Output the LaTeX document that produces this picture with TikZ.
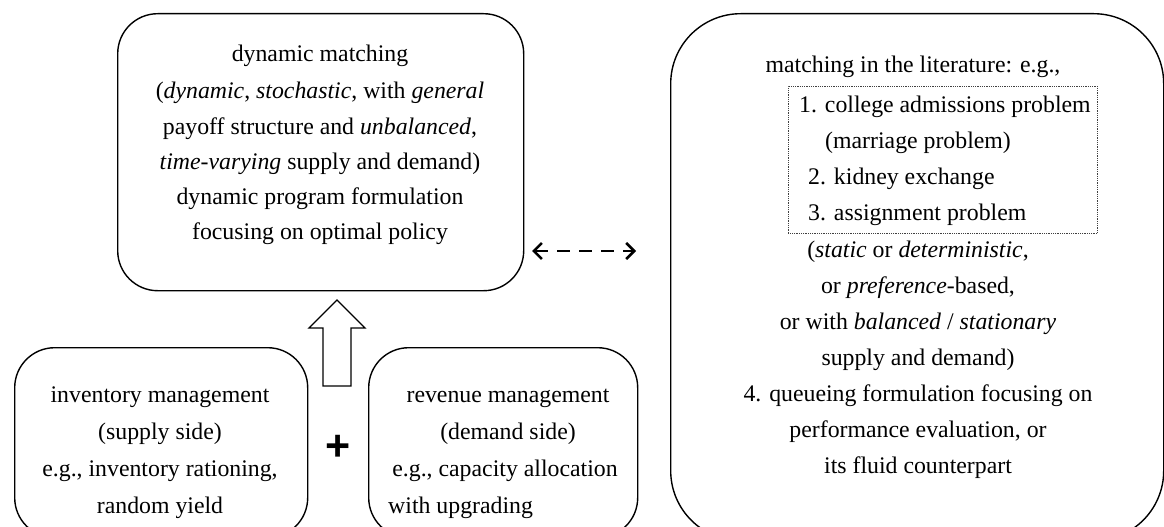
\documentclass[tikz,border=0pt]{standalone}
\usepackage{fontspec}
\setmainfont{Liberation Serif}
\newfontfamily\plusfont{Liberation Sans}
\usetikzlibrary{arrows.meta}
\begin{document}
\begin{tikzpicture}[x=1pt,y=-1pt,
  box/.style={draw, line width=1.4pt, rounded corners=40pt, inner sep=0pt, anchor=north west},
  bigbox/.style={box, rounded corners=70pt},
  listframe/.style={draw=black!75, densely dotted, line width=0.8pt, inner sep=0pt, anchor=north west},
  txt/.style={inner sep=0pt, anchor=base, font=\fontsize{23.8}{36}\selectfont},
  txtl/.style={txt, anchor=base west},
  link/.style={line width=2.6pt, dash pattern=on 13pt off 9pt,
    {Straight Barb[length=8pt,width=16pt,line width=2.6pt]}-{Straight Barb[length=8pt,width=16pt,line width=2.6pt]}},
  hollow/.style={draw, line width=1.4pt, line join=miter}]
\useasboundingbox (0,0) rectangle (1164,527);

% frames
\node[box, minimum width=406pt, minimum height=277pt] (top) at (117,13) {};
\node[bigbox, minimum width=493pt, minimum height=527pt] (lit) at (670,13) {};
\node[listframe, minimum width=309pt, minimum height=147pt] (list) at (788,86) {};
\node[box, minimum width=293pt, minimum height=190pt] (inv) at (14,347) {};
\node[box, minimum width=269pt, minimum height=190pt] (rev) at (368,347) {};

% dynamic matching
\node[txt] (t1) at (320,62) {dynamic matching};
\node[txt] (t2) at (320,98) {(\textit{dynamic}, \textit{stochastic}, with \textit{general}};
\node[txt] (t3) at (320,134) {payoff structure and \textit{unbalanced},};
\node[txt] (t4) at (320,169) {\textit{time-varying} supply and demand)};
\node[txt] (t5) at (320,204) {dynamic program formulation};
\node[txt] (t6) at (320,239) {focusing on optimal policy};

% matching in the literature
\node[txt] (r1) at (913,73) {matching in the literature: e.g.,};
\node[txtl] (r2) at (799,112) {1. college admissions problem};
\node[txtl] (r3) at (825,148) {(marriage problem)};
\node[txtl] (r4) at (808,184) {2. kidney exchange};
\node[txtl] (r5) at (808,220) {3. assignment problem};
\node[txt] (r6) at (918,257) {(\textit{static} or \textit{deterministic},};
\node[txt] (r7) at (918,293) {or \textit{preference}-based,};
\node[txt] (r8) at (918,329) {or with \textit{balanced} / \textit{stationary}};
\node[txt] (r9) at (918,365) {supply and demand)};
\node[txt] (r10) at (918,401) {4. queueing formulation focusing on};
\node[txt] (r11) at (918,437) {performance evaluation, or};
\node[txt] (r12) at (918,473) {its fluid counterpart};

% inventory management
\node[txt] (i1) at (160,402) {inventory management};
\node[txt] (i2) at (160,439) {(supply side)};
\node[txt] (i3) at (160,476) {e.g., inventory rationing,};
\node[txt] (i4) at (160,513) {random yield};

% revenue management
\node[txt] (v1) at (508,402) {revenue management};
\node[txt] (v2) at (508,439) {(demand side)};
\node[txt] (v3) at (505,476) {e.g., capacity allocation};
\node[txtl] (v4) at (388,513) {with upgrading};

% plus sign between the two sources
\node[inner sep=0pt, font=\plusfont\bfseries\fontsize{43}{43}\selectfont] (plus) at (338,448) {+};

% hollow arrow up into the dynamic matching box
\draw[hollow] (323,386) -- (323,328) -- (309,328) -- (337,300) -- (365,328) -- (351,328) -- (351,386) -- cycle;

% dashed two-way link
\coordinate (la) at (532,251);
\coordinate (lb) at (636,251);
\draw[link] (la) -- (lb);
\end{tikzpicture}
\end{document}
